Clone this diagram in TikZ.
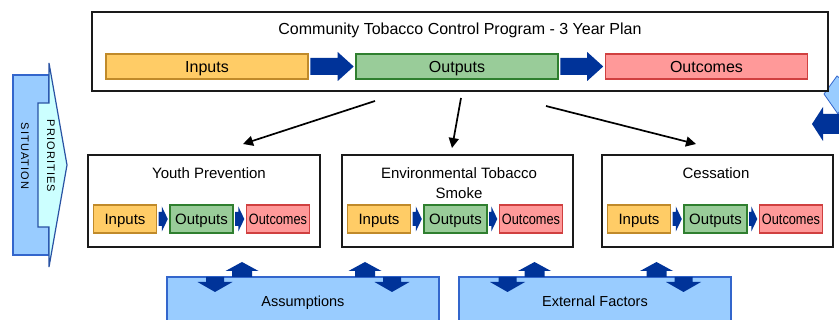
\documentclass[tikz,border=0pt]{standalone}
\usepackage{fontspec}
\usepackage{graphicx}
\setmainfont{Liberation Sans}
\usetikzlibrary{arrows.meta,calc}

\definecolor{inputfill}{HTML}{FFCC66}
\definecolor{inputdraw}{HTML}{C08A2A}
\definecolor{outputfill}{HTML}{99CC99}
\definecolor{outputdraw}{HTML}{2F7F2F}
\definecolor{outcomefill}{HTML}{FF9999}
\definecolor{outcomedraw}{HTML}{D04040}
\definecolor{blockblue}{HTML}{003399}
\definecolor{paleblue}{HTML}{99CCFF}
\definecolor{blueedge}{HTML}{3366CC}
\definecolor{palecyan}{HTML}{CCFFFF}
\definecolor{frameline}{HTML}{1A1A1A}

% block arrow between two stage boxes: from, to, shaft half-height, head half-height, head length
\newcommand\flowarrow[5]{%
  \fill[blockblue] let \p1=($(#1.east)+(1.5,0)$), \p2=($(#2.west)-(1.5,0)$) in
    (\x1,\y1-#3) -- (\x2-#5,\y1-#3) -- (\x2-#5,\y1-#4) -- (\x2,\y1)
    -- (\x2-#5,\y1+#4) -- (\x2-#5,\y1+#3) -- (\x1,\y1+#3) -- cycle;}

\begin{document}
\begin{tikzpicture}[x=1pt,y=-1pt,
  frame/.style={draw=frameline, line width=2pt, fill=white, inner sep=0pt},
  titletext/.style={inner sep=0pt, font=\fontsize{16}{18}\selectfont},
  subtitle/.style={inner sep=0pt, align=center, font=\fontsize{15}{20}\selectfont},
  stage/.style={line width=1.6pt, inner sep=0pt, minimum height=25pt, minimum width=202pt,
    text height=11.2pt, text depth=0pt, font=\fontsize{16}{18}\selectfont},
  small/.style={line width=1.4pt, inner sep=0pt, minimum height=28pt, minimum width=63pt,
    text height=10.6pt, text depth=0pt, font=\fontsize{15}{18}\selectfont},
  inbox/.style={draw=inputdraw, fill=inputfill},
  outbox/.style={draw=outputdraw, fill=outputfill},
  resbox/.style={draw=outcomedraw, fill=outcomefill},
  factor/.style={draw=blueedge, line width=1.3pt, fill=paleblue, inner sep=0pt,
    minimum width=272pt, minimum height=48pt, text height=10.4pt, text depth=0pt,
    font=\fontsize{14.5}{17}\selectfont},
  conn/.style={draw=black, line width=1.7pt, -{Triangle[length=10pt,width=10pt]}},
  vertical/.style={rotate=-90, inner sep=0pt, font=\fontsize{11}{12}\selectfont\addfontfeatures{LetterSpace=10}},
  updown/.pic={
    \fill[blockblue] (-22.5,0) -- (-22.5,5) -- (-31,5) -- (-13.5,15) -- (4,5) -- (-4.5,5) -- (-4.5,0) -- cycle;
    \fill[blockblue] (3.5,0) -- (3.5,-6) -- (-3,-6) -- (13.5,-15) -- (30,-6) -- (23.5,-6) -- (23.5,0) -- cycle;
  }]

\path[use as bounding box, clip] (0,0) rectangle (839,320);
\fill[white] (0,0) rectangle (839,320);

% situation / priorities band on the left
\draw[blueedge, line width=1.2pt, fill=paleblue] (13,75) rectangle (49,255);
\draw[blueedge!80!black, line width=1.2pt, fill=palecyan]
  (38,103) -- (49,103) -- (49,63) -- (67,165) -- (49,267) -- (49,227) -- (38,227) -- cycle;
\node[vertical] (situation) at (25,156) {SITUATION};
\node[vertical] (priorities) at (51,156) {PRIORITIES};

% partial shapes at the right edge
\draw[blueedge, line width=0.8pt, fill=paleblue] (824,94) -- (837,76) -- (852,88) -- (838,114) -- cycle;
\fill[blockblue] (812,124) -- (823,107) -- (823,114) -- (845,114) -- (845,134) -- (823,134) -- (823,141) -- cycle;

% three-year plan
\node[frame, minimum width=736pt, minimum height=79pt] (plan) at (460,51.5) {};
\node[titletext] (plantitle) at (460,30) {Community Tobacco Control Program - 3 Year Plan};
\node[stage, inbox] (pin) at (207,66.5) {Inputs};
\node[stage, outbox] (pout) at (457,66.5) {Outputs};
\node[stage, resbox] (pres) at (706.5,66.5) {Outcomes};
\flowarrow{pin}{pout}{8.5}{14.5}{16}
\flowarrow{pout}{pres}{8.5}{14.5}{16}

% program areas
\node[frame, minimum width=232pt, minimum height=92pt] (youth) at (204,201) {};
\node[subtitle] (youthtitle) at (209,173) {Youth Prevention};
\node[small, inbox] (yin) at (125,219) {Inputs};
\node[small, outbox] (yout) at (201.5,219) {Outputs};
\node[small, resbox] (yres) at (278,219) {\scalebox{0.85}[1]{Outcomes}};
\flowarrow{yin}{yout}{7}{12.5}{6}
\flowarrow{yout}{yres}{7}{12.5}{6}

\node[frame, minimum width=231pt, minimum height=92pt] (ets) at (457.5,201) {};
\node[subtitle] (etstitle) at (459,183) {Environmental Tobacco\\Smoke};
\node[small, inbox] (ein) at (379,219) {Inputs};
\node[small, outbox] (eout) at (455.5,219) {Outputs};
\node[small, resbox] (eres) at (531,219) {\scalebox{0.85}[1]{Outcomes}};
\flowarrow{ein}{eout}{7}{12.5}{6}
\flowarrow{eout}{eres}{7}{12.5}{6}

\node[frame, minimum width=231pt, minimum height=92pt] (cess) at (717.5,201) {};
\node[subtitle] (cesstitle) at (716,173) {Cessation};
\node[small, inbox] (cin) at (639,219) {Inputs};
\node[small, outbox] (cout) at (715.5,219) {Outputs};
\node[small, resbox] (cres) at (791,219) {\scalebox{0.85}[1]{Outcomes}};
\flowarrow{cin}{cout}{7}{12.5}{6}
\flowarrow{cout}{cres}{7}{12.5}{6}

% plan feeds each program area
\coordinate (toyouthA) at (375,101);
\coordinate (toyouthB) at (243,144);
\coordinate (toetsA) at (461,98);
\coordinate (toetsB) at (452,148);
\coordinate (tocessA) at (546,106);
\coordinate (tocessB) at (696,144);
\draw[conn] (toyouthA) -- (toyouthB);
\draw[conn] (toetsA) -- (toetsB);
\draw[conn] (tocessA) -- (tocessB);

% assumptions and external factors
\node[factor] (assume) at (303,301) {Assumptions};
\node[factor] (external) at (595,301) {External Factors};
\pic at (228.5,277) {updown};
\pic[xscale=-1] at (378.5,277) {updown};
\pic at (521,277) {updown};
\pic[xscale=-1] at (670,277) {updown};
\end{tikzpicture}
\end{document}
